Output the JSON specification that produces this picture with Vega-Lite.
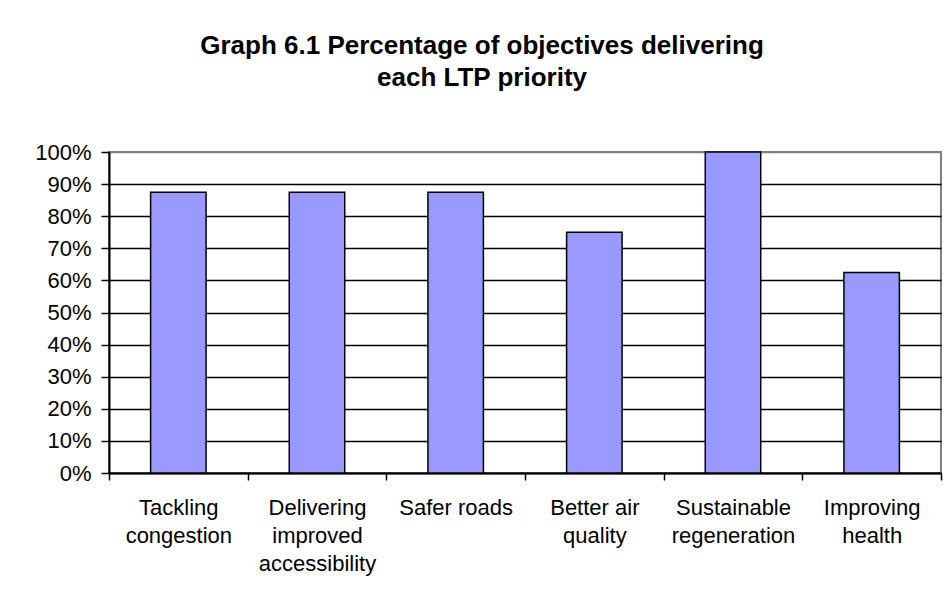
{
  "$schema": "https://vega.github.io/schema/vega-lite/v6.json",
  "autosize": "none",
  "width": 832,
  "height": 321,
  "padding": {"left": 109, "top": 152, "right": 11, "bottom": 120},
  "background": "white",
  "title": {
    "text": ["Graph 6.1 Percentage of objectives delivering", "each LTP priority"],
    "font": "Liberation Sans",
    "fontSize": 26,
    "fontWeight": "bold",
    "color": "black",
    "lineHeight": 32,
    "anchor": "middle",
    "dx": -43,
    "offset": 50
  },
  "data": {
    "values": [
      {"priority": "Tackling congestion", "share": 0.875},
      {"priority": "Delivering improved accessibility", "share": 0.875},
      {"priority": "Safer roads", "share": 0.875},
      {"priority": "Better air quality", "share": 0.75},
      {"priority": "Sustainable regeneration", "share": 1.0},
      {"priority": "Improving health", "share": 0.625}
    ]
  },
  "mark": {"type": "bar", "color": "#9999FF", "stroke": "black", "strokeWidth": 1.5, "width": {"band": 0.4}},
  "encoding": {
    "x": {
      "field": "priority",
      "type": "nominal",
      "sort": null,
      "scale": {"paddingInner": 0, "paddingOuter": 0},
      "axis": {
        "title": null,
        "labelAngle": 0,
        "labelFont": "Liberation Sans",
        "labelFontSize": 22,
        "labelColor": "black",
        "labelLineHeight": 28,
        "labelPadding": 17,
        "labelLimit": 300,
        "labelOverlap": false,
        "labelExpr": "datum.value == 'Tackling congestion' ? ['Tackling', 'congestion'] : datum.value == 'Delivering improved accessibility' ? ['Delivering', 'improved', 'accessibility'] : datum.value == 'Better air quality' ? ['Better air', 'quality'] : datum.value == 'Sustainable regeneration' ? ['Sustainable', 'regeneration'] : datum.value == 'Improving health' ? ['Improving', 'health'] : datum.value",
        "tickBand": "extent",
        "tickSize": 7,
        "tickColor": "black",
        "tickWidth": 1.5,
        "domainColor": "black",
        "domainWidth": 2,
        "grid": false
      }
    },
    "y": {
      "field": "share",
      "type": "quantitative",
      "scale": {"domain": [0, 1], "nice": false},
      "axis": {
        "title": null,
        "values": [0, 0.1, 0.2, 0.3, 0.4, 0.5, 0.6, 0.7, 0.8, 0.9, 1.0],
        "format": ".0%",
        "labelFont": "Liberation Sans",
        "labelFontSize": 22,
        "labelColor": "black",
        "labelPadding": 10,
        "tickSize": 8,
        "tickColor": "black",
        "tickWidth": 1.5,
        "domainColor": "black",
        "domainWidth": 2,
        "grid": true,
        "gridColor": {"condition": {"test": "datum.value >= 1", "value": "#808080"}, "value": "black"},
        "gridWidth": 1.5,
        "gridOpacity": 1
      }
    }
  },
  "config": {
    "view": {"stroke": "#808080", "strokeWidth": 2}
  }
}
